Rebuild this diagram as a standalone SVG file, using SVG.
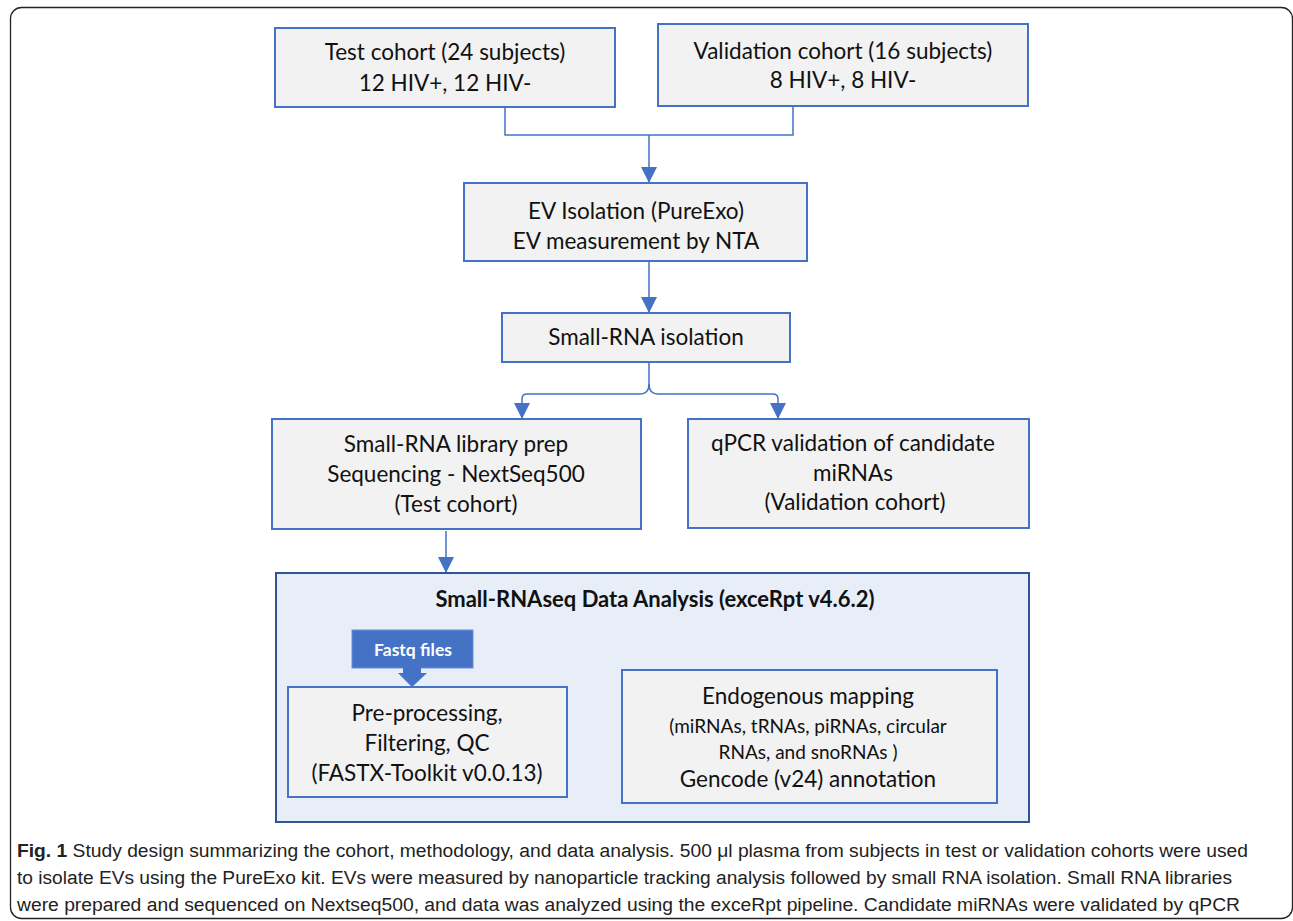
<svg xmlns="http://www.w3.org/2000/svg" width="1293" height="921" viewBox="0 0 1293 921">
<defs>
<style>
.box{fill:#F2F2F2;stroke:#4472C4;stroke-width:2}
.t{font-family:Lato,"Liberation Sans",sans-serif;font-size:22.5px;fill:#111;text-anchor:middle}
.s{font-size:19px}
.b{font-weight:bold;font-size:22px}
.conn{fill:none;stroke:#4472C4;stroke-width:1.5}
.cap{font-family:"Liberation Sans",Arial,sans-serif;font-size:18px;fill:#222}
</style>
<marker id="ah2" viewBox="0 0 16 16" refX="16" refY="8" markerWidth="16" markerHeight="16" markerUnits="userSpaceOnUse" orient="auto">
<path d="M0,0 L16,8 L0,16 z" fill="#4472C4"/>
</marker>
</defs>
<rect width="1293" height="921" fill="#fff"/>
<rect x="10.5" y="7.5" width="1282" height="911" rx="11" fill="none" stroke="#222" stroke-width="1.3"/>

<g id="connectors">
<path class="conn" d="M505,107 V135 H793 V105"/>
<path class="conn" d="M649,135 V183" marker-end="url(#ah2)"/>
<path class="conn" d="M649,262 V313" marker-end="url(#ah2)"/>
<path class="conn" d="M649,363 V384 Q649,394 640,394 H527 Q522,394 522,399 V419" marker-end="url(#ah2)"/>
<path class="conn" d="M649,384 Q649,394 658,394 H773 Q778,394 778,399 V419" marker-end="url(#ah2)"/>
<path class="conn" d="M446,531 V573" marker-end="url(#ah2)"/>
<path class="conn" d="M573,740 H618" marker-end="url(#ah2)"/>
</g>

<g id="test-cohort">
<rect class="box" x="275" y="28" width="340" height="79"/>
<text class="t" x="445" y="60">Test cohort (24 subjects)</text>
<text class="t" x="445" y="91">12 HIV+, 12 HIV-</text>
</g>
<g id="validation-cohort">
<rect class="box" x="658" y="24" width="370" height="82"/>
<text class="t" x="843" y="59">Validation cohort (16 subjects)</text>
<text class="t" x="843" y="88">8 HIV+, 8 HIV-</text>
</g>
<g id="ev-isolation">
<rect class="box" x="464" y="183" width="343" height="78"/>
<text class="t" x="636" y="219">EV Isolation (PureExo)</text>
<text class="t" x="636" y="249">EV measurement by NTA</text>
</g>
<g id="small-rna-isolation">
<rect class="box" x="502" y="313" width="288" height="49"/>
<text class="t" x="646" y="345">Small-RNA isolation</text>
</g>
<g id="library-prep">
<rect class="box" x="272" y="419" width="369" height="110"/>
<text class="t" x="456" y="452">Small-RNA library prep</text>
<text class="t" x="456" y="482">Sequencing - NextSeq500</text>
<text class="t" x="456" y="512">(Test cohort)</text>
</g>
<g id="qpcr">
<rect class="box" x="688" y="419" width="341" height="109"/>
<text class="t" x="853" y="451">qPCR validation of candidate</text>
<text class="t" x="853" y="481">miRNAs</text>
<text class="t" x="855" y="510">(Validation cohort)</text>
</g>
<g id="data-analysis">
<rect x="276" y="573" width="753" height="249" fill="#E7EEF8" stroke="#2F5597" stroke-width="2"/>
<text class="t b" x="655" y="607">Small-RNAseq Data Analysis (exceRpt v4.6.2)</text>
</g>
<g id="fastq">
<rect x="352" y="630" width="121" height="38" fill="#4472C4" stroke="#6A8FD4" stroke-width="1"/>
<path d="M403,667 H421 V673 H427 L412,687 L398,673 H403 z" fill="#4472C4"/>
<text x="413" y="656" font-family="Lato,'Liberation Sans',sans-serif" font-size="17.5" font-weight="bold" fill="#fff" text-anchor="middle">Fastq files</text>
</g>
<g id="preprocessing">
<rect class="box" x="288" y="687" width="279" height="110"/>
<text class="t" x="427" y="721">Pre-processing,</text>
<text class="t" x="427" y="751">Filtering, QC</text>
<text class="t" x="427" y="781">(FASTX-Toolkit v0.0.13)</text>
</g>
<g id="endogenous">
<rect class="box" x="622" y="670" width="375" height="133"/>
<text class="t" x="808" y="704">Endogenous mapping</text>
<text class="t s" x="808" y="733">(miRNAs, tRNAs, piRNAs, circular</text>
<text class="t s" x="808" y="759">RNAs, and snoRNAs )</text>
<text class="t" x="808" y="787">Gencode (v24) annotation</text>
</g>

<g id="caption">
<text class="cap" x="17" y="857" textLength="1231" lengthAdjust="spacingAndGlyphs"><tspan font-weight="bold">Fig. 1</tspan> Study design summarizing the cohort, methodology, and data analysis. 500 μl plasma from subjects in test or validation cohorts were used</text>
<text class="cap" x="17" y="884" textLength="1215" lengthAdjust="spacingAndGlyphs">to isolate EVs using the PureExo kit. EVs were measured by nanoparticle tracking analysis followed by small RNA isolation. Small RNA libraries</text>
<text class="cap" x="17" y="911" textLength="1223" lengthAdjust="spacingAndGlyphs">were prepared and sequenced on Nextseq500, and data was analyzed using the exceRpt pipeline. Candidate miRNAs were validated by qPCR</text>
</g>
</svg>
